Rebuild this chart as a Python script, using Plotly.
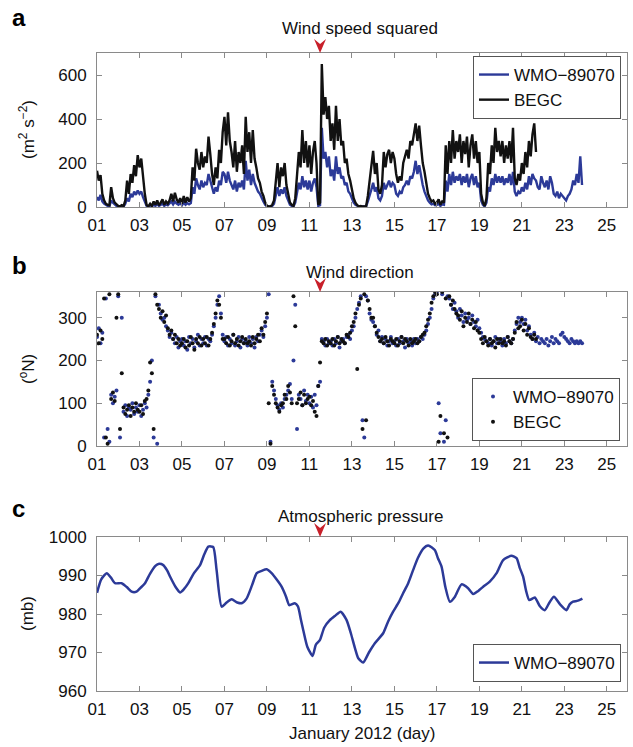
import plotly.graph_objects as go

# ---------------- data ----------------
START_DAY = 1.0
STEP_DAYS = 1 / 12  # 2-hourly samples

# Wind speed squared (m^2 s^-2), one row per day
wmo_speed2 = [
    45, 30, 55, 25, 15, 8, 5, 3, 30, 20, 10, 5,
    3, 2, 4, 2, 15, 40, 25, 60, 45, 70, 55, 75,
    60, 70, 45, 20, 5, 2, 8, 3, 10, 5, 15, 5,
    10, 15, 5, 12, 8, 15, 25, 12, 25, 15, 10, 18,
    8, 20, 10, 18, 12, 18, 90, 60, 130, 100, 80, 120,
    90, 110, 100, 150, 120, 80, 60, 90, 70, 120, 100, 160,
    150, 110, 160, 120, 100, 80, 120, 70, 110, 90, 120, 80,
    210, 120, 170, 100, 150, 110, 90, 70, 60, 40, 25, 10,
    3, 2, 2, 5, 15, 60, 90, 50, 80, 60, 90, 50,
    30, 10, 5, 3, 20, 70, 110, 80, 140, 90, 120, 80,
    120, 70, 110, 130, 90, 5, 8, 360, 220, 250, 180, 230,
    140, 170, 120, 230, 150, 180, 130, 140, 100, 110, 70, 60,
    40, 20, 10, 4, 2, 3, 2, 3, 2, 25, 60, 80,
    110, 70, 90, 40, 30, 50, 110, 80, 100, 120, 90, 110,
    100, 60, 50, 70, 60, 90, 100, 120, 100, 140, 130, 160,
    210, 150, 190, 140, 100, 70, 50, 30, 20, 12, 15, 8,
    10, 15, 5, 12, 10, 120, 70, 150, 100, 160, 110, 140,
    120, 150, 100, 140, 110, 150, 90, 130, 150, 100, 140, 90,
    110, 30, 10, 3, 20, 90, 70, 130, 100, 150, 110, 140,
    110, 140, 100, 130, 110, 150, 100, 160, 70, 50, 70, 60,
    90, 70, 110, 80, 140, 100, 150, 130, 120, 90, 80, 140,
    110, 90, 120, 80, 140, 110, 60, 50, 70, 40, 60, 50,
    40, 30, 50, 60, 80, 120, 100, 150, 110, 230, 100,
]
begc_speed2 = [
    165, 120, 145, 60, 30, 15, 10, 8, 90, 40, 20, 10,
    5, 3, 8, 4, 30, 120, 60, 150, 110, 190, 140, 236,
    180, 220, 120, 60, 10, 3, 15, 5, 25, 10, 30, 8,
    20, 35, 10, 25, 15, 30, 60, 25, 65, 35, 20, 40,
    15, 50, 20, 45, 25, 40, 180, 120, 265, 200, 170, 250,
    180, 230, 200, 320, 240, 150, 100, 180, 130, 260, 200, 340,
    410, 280, 430, 300, 250, 180, 300, 160, 250, 200, 280, 150,
    410, 250, 340, 200, 350, 220, 180, 130, 110, 70, 50, 20,
    5, 2, 3, 10, 30, 120, 200, 90, 180, 140, 200, 100,
    60, 20, 10, 5, 40, 150, 250, 180, 350, 200, 300, 180,
    280, 150, 250, 300, 200, 10, 20, 650, 420, 500, 400, 460,
    300, 380, 260, 460, 300, 400, 280, 300, 200, 220, 150, 120,
    80, 40, 20, 8, 3, 5, 2, 4, 3, 50, 120, 180,
    255, 150, 200, 80, 60, 100, 250, 180, 240, 260, 200, 250,
    220, 150, 110, 140, 120, 200, 230, 260, 220, 300, 280, 330,
    380, 300, 370, 280, 200, 160, 100, 60, 40, 25, 30, 15,
    20, 35, 10, 25, 20, 280, 150, 300, 200, 350, 220, 300,
    250, 330, 200, 300, 240, 320, 180, 280, 330, 220, 300, 200,
    250, 60, 20, 5, 40, 200, 150, 280, 200, 360, 250, 300,
    230, 300, 200, 280, 220, 300, 200, 360, 130, 100, 150, 120,
    200, 150, 250, 180, 300, 230, 330, 380, 250,
]

# Wind direction (degrees from N), one row per day
wmo_dir = [
    255, 275, 240, 265, 20, 345, 40, 10, 120, 100, 115, 130,
    350, 20, 300, 80, 95, 70, 90, 85, 100, 75, 90, 80,
    95, 70, 85, 100, 90, 120, 150, 200, 20, 350, 5, 330,
    310, 295, 300, 280, 270, 255, 265, 250, 240, 255, 230, 245,
    250, 235, 245, 225, 255, 240, 250, 230, 245, 260, 235, 250,
    240, 255, 235, 250, 245, 260, 280, 300, 330, 350, 310, 260,
    245, 255, 235, 250, 240, 260, 235, 245, 255, 230, 250, 240,
    245, 235, 255, 240, 250, 230, 255, 245, 260, 270, 255, 280,
    300, 355, 10, 150, 130, 110, 95, 85, 100, 90, 110, 120,
    130, 145, 110, 200, 330, 40, 120, 110, 95, 130, 105, 120,
    100, 115, 90, 120, 95, 140, 150, 250, 245, 235, 250, 240,
    245, 235, 250, 240, 255, 230, 245, 250, 240, 255, 260, 250,
    270, 280, 300, 320, 335, 350, 60, 20, 350, 340, 310, 295,
    290, 280, 260, 270, 245, 255, 240, 250, 235, 245, 255, 240,
    245, 235, 250, 240, 255, 245, 230, 250, 240, 245, 235, 250,
    240, 250, 245, 255, 250, 260, 270, 285, 300, 320, 345, 355,
    360, 100, 30, 355, 10, 60, 350, 345, 330, 320, 335, 315,
    300, 320, 305, 290, 310, 295, 300, 285, 305, 290, 280, 295,
    275, 265, 255, 250, 245, 240, 250, 235, 245, 255, 240, 250,
    245, 235, 250, 240, 255, 245, 240, 250, 270, 285, 300, 290,
    300, 285, 295, 270, 280, 260, 250, 265, 245, 255, 240, 250,
    245, 240, 250, 235, 245, 255, 240, 250, 245, 240, 260, 265,
    255, 250, 245, 240, 250, 245, 240, 245, 240, 245, 240,
]
begc_dir = [
    260, 240, 270, 250, 345, 20, 5, 355, 110, 125, 105, 300,
    355, 40, 170, 90, 75, 85, 95, 70, 90, 80, 100, 85,
    80, 95, 75, 105, 110, 130, 195, 170, 40, 355, 330, 320,
    300, 315, 290, 305, 275, 260, 270, 250, 260, 240, 250, 235,
    240, 250, 230, 245, 235, 255, 240, 225, 250, 240, 255, 235,
    250, 240, 255, 235, 250, 265, 285, 310, 340, 330, 300, 250,
    250, 240, 255, 235, 245, 260, 240, 250, 235, 245, 255, 240,
    250, 240, 245, 235, 255, 240, 250, 260, 245, 275, 260, 290,
    310, 100, 5, 140, 120, 100, 90, 80, 95, 100, 120, 110,
    140, 125, 100, 350, 280, 100, 110, 125, 95, 120, 100, 110,
    115, 95, 105, 80, 70, 140, 195, 245, 240, 250, 235, 245,
    240, 250, 235, 245, 255, 240, 250, 245, 240, 260, 255, 265,
    280, 290, 310, 180, 330, 345, 40, 355, 60, 340, 320, 300,
    300, 280, 265, 255, 245, 250, 240, 255, 245, 235, 250, 245,
    240, 250, 235, 245, 255, 240, 250, 245, 235, 250, 240, 245,
    250, 240, 245, 255, 260, 265, 280, 295, 310, 335, 350, 360,
    355, 10, 70, 360, 30, 345, 20, 350, 330, 340, 320, 310,
    305, 295, 315, 280, 300, 290, 310, 285, 295, 275, 290, 270,
    265, 250, 240, 255, 245, 235, 250, 240, 245, 230, 250, 240,
    250, 240, 245, 235, 255, 245, 240, 250, 265, 290, 275, 280,
    295, 270, 285, 260, 275, 255, 250, 260, 250,
]

# Atmospheric pressure (mb), WMO-89070
pres_day = [
    1.0, 1.2, 1.46, 1.65, 1.85, 2.16, 2.4, 2.63, 2.86, 3.05, 3.26, 3.5, 3.75,
    3.89, 4.12, 4.3, 4.44, 4.7, 4.91, 5.1, 5.3, 5.55, 5.85, 6.05, 6.24, 6.47,
    6.63, 6.87, 7.1, 7.34, 7.6, 7.81, 8.04, 8.3, 8.52, 8.75, 8.99, 9.22, 9.45,
    9.69, 9.9, 10.05, 10.31, 10.46, 10.6, 10.71, 10.9, 11.15, 11.3, 11.49,
    11.7, 11.96, 12.2, 12.47, 12.75, 12.95, 13.15, 13.3, 13.53, 13.8, 14.08,
    14.47, 14.7, 14.94, 15.2, 15.41, 15.65, 15.88, 16.1, 16.36, 16.59, 16.9,
    17.05, 17.22, 17.4, 17.61, 17.85, 18.16, 18.47, 18.71, 18.95, 19.18,
    19.49, 19.81, 20.12, 20.51, 20.75, 20.9, 21.06, 21.2, 21.35, 21.61,
    21.85, 22.08, 22.3, 22.51, 22.8, 23.1, 23.25, 23.41, 23.6, 23.78, 23.85,
]
pres_mb = [
    985.5, 989.0, 990.6, 989.5, 988.0, 988.0, 987.0, 985.8, 985.8, 986.8,
    988.0, 990.5, 992.5, 993.0, 992.7, 991.3, 989.7, 987.0, 985.6, 986.5,
    988.0, 990.5, 992.7, 995.5, 997.5, 997.4, 991.4, 981.9, 983.0, 983.8,
    983.0, 982.8, 984.0, 987.5, 990.6, 991.2, 991.6, 990.6, 989.0, 987.1,
    984.5, 982.3, 982.8, 982.0, 978.5, 975.8, 971.5, 969.1, 972.0, 973.2,
    976.5, 978.4, 979.5, 980.6, 978.4, 975.0, 971.0, 968.5, 967.4, 970.0,
    972.4, 975.0, 978.0, 980.6, 983.0, 985.4, 988.0, 991.4, 994.5, 997.0,
    997.8, 996.6, 994.5, 992.3, 987.0, 983.2, 984.5, 987.7, 986.7, 985.2,
    986.0, 987.1, 988.4, 990.6, 994.0, 995.1, 994.5, 992.0, 989.7, 986.0,
    983.6, 984.3, 982.0, 981.0, 983.0, 984.5, 982.5, 981.0, 982.5, 983.2,
    983.4, 983.8, 984.0,
]

event_day = 11.5  # red marker
tick_days = list(range(1, 26, 2))
tick_labels = [f"{d:02d}" for d in tick_days]


def sample_days(n):
    return [START_DAY + i * STEP_DAYS for i in range(n)]


# ---------------- styling ----------------
FONT = "Liberation Sans, Arial, Helvetica, sans-serif"
BLUE = "#2c3a98"
BLACK = "#111111"
W, H = 633, 747
X0, X1 = 97 / W, 627 / W
panels = [(53, 207), (292, 446), (537, 691)]  # pixel top/bottom
doms = [[1 - b / H, 1 - t / H] for t, b in panels]

fig = go.Figure()

# panel a
fig.add_trace(go.Scatter(x=sample_days(len(wmo_speed2)), y=wmo_speed2, mode="lines",
                         line=dict(color=BLUE, width=2.4), name="WMO\u221289070",
                         xaxis="x", yaxis="y", legend="legend"))
fig.add_trace(go.Scatter(x=sample_days(len(begc_speed2)), y=begc_speed2, mode="lines",
                         line=dict(color=BLACK, width=2.4), name="BEGC",
                         xaxis="x", yaxis="y", legend="legend"))
# panel b
fig.add_trace(go.Scatter(x=sample_days(len(wmo_dir)), y=wmo_dir, mode="markers",
                         marker=dict(color=BLUE, size=4), name="WMO\u221289070",
                         xaxis="x2", yaxis="y2", legend="legend2"))
fig.add_trace(go.Scatter(x=sample_days(len(begc_dir)), y=begc_dir, mode="markers",
                         marker=dict(color=BLACK, size=4), name="BEGC",
                         xaxis="x2", yaxis="y2", legend="legend2"))
# panel c
fig.add_trace(go.Scatter(x=pres_day, y=pres_mb, mode="lines",
                         line=dict(color=BLUE, width=2.5, shape="spline", smoothing=0.6),
                         name="WMO\u221289070", xaxis="x3", yaxis="y3", legend="legend3"))

axis_common = dict(showline=True, linecolor="#8a8a8a", linewidth=1, mirror="ticks",
                   ticks="inside", ticklen=5, tickcolor="#8a8a8a", showgrid=False,
                   zeroline=False, automargin=False,
                   tickfont=dict(size=17, color="#111", family=FONT))

yranges = [[0, 700], [0, 360], [960, 1000]]
ytick = [[0, 200, 400, 600], [0, 100, 200, 300], [960, 970, 980, 990, 1000]]
for i in range(3):
    sfx = "" if i == 0 else str(i + 1)
    fig.layout["xaxis" + sfx] = dict(axis_common, domain=[X0, X1], range=[1, 25.95],
                                     anchor="y" + sfx, tickvals=tick_days,
                                     ticktext=tick_labels, ticklabelstandoff=3)
    fig.layout["yaxis" + sfx] = dict(axis_common, domain=doms[i], range=yranges[i],
                                     anchor="x" + sfx, tickvals=ytick[i],
                                     ticklabelstandoff=6)
    # red event marker above the top axis
    fig.add_shape(type="path", xref="x" + sfx, yref=("y" + sfx) + " domain",
                  xsizemode="pixel", ysizemode="pixel", xanchor=event_day, yanchor=1,
                  path="M-6,14 L0,9 L6,14 L0,0 Z", fillcolor="#c8202a",
                  line=dict(width=0))

leg_common = dict(bgcolor="white", bordercolor="#555", borderwidth=1,
                  font=dict(size=17, family=FONT, color="#111"), xanchor="left",
                  yanchor="top", itemwidth=30, tracegroupgap=0)
fig.update_layout(
    legend=dict(leg_common, x=473 / W, y=1 - 56 / H),
    legend2=dict(leg_common, x=472 / W, y=1 - 378 / H),
    legend3=dict(leg_common, x=473 / W, y=1 - 644 / H),
)

titles = [("Wind speed squared", 28), ("Wind direction", 272), ("Atmospheric pressure", 516)]
letters = [("a", 18), ("b", 265), ("c", 508)]
ytitles = ["(m<sup>2</sup> s<sup>\u22122</sup>)", "(<sup>o</sup>N)", "(mb)"]
ann = []
for (t, yp) in titles:
    ann.append(dict(text=t, x=360 / W, y=1 - yp / H, xref="paper", yref="paper",
                    showarrow=False, xanchor="center", yanchor="middle",
                    font=dict(size=17, family=FONT, color="#111")))
for (t, yp) in letters:
    ann.append(dict(text=f"<b>{t}</b>", x=10 / W, y=1 - yp / H, xref="paper", yref="paper",
                    showarrow=False, xanchor="left", yanchor="middle",
                    font=dict(size=24, family=FONT, color="#000")))
for t, (top, bot) in zip(ytitles, panels):
    ann.append(dict(text=t, x=27 / W, y=1 - (top + bot) / 2 / H, xref="paper",
                    yref="paper", showarrow=False, textangle=-90, xanchor="center",
                    yanchor="middle", font=dict(size=17, family=FONT, color="#111")))
ann.append(dict(text="January 2012 (day)", x=362 / W, y=1 - 733 / H, xref="paper",
                yref="paper", showarrow=False, xanchor="center", yanchor="middle",
                font=dict(size=17, family=FONT, color="#111")))

fig.update_layout(width=W, height=H, autosize=False, margin=dict(l=0, r=0, t=0, b=0),
                  paper_bgcolor="white", plot_bgcolor="white", annotations=ann,
                  font=dict(family=FONT))
# remove the browser's default page margin so the figure fills the window exactly
fig.write_html("out.html",
               config={"displayModeBar": False},
               post_script="document.body.style.margin='0';"
                           "document.body.style.overflow='hidden';")
